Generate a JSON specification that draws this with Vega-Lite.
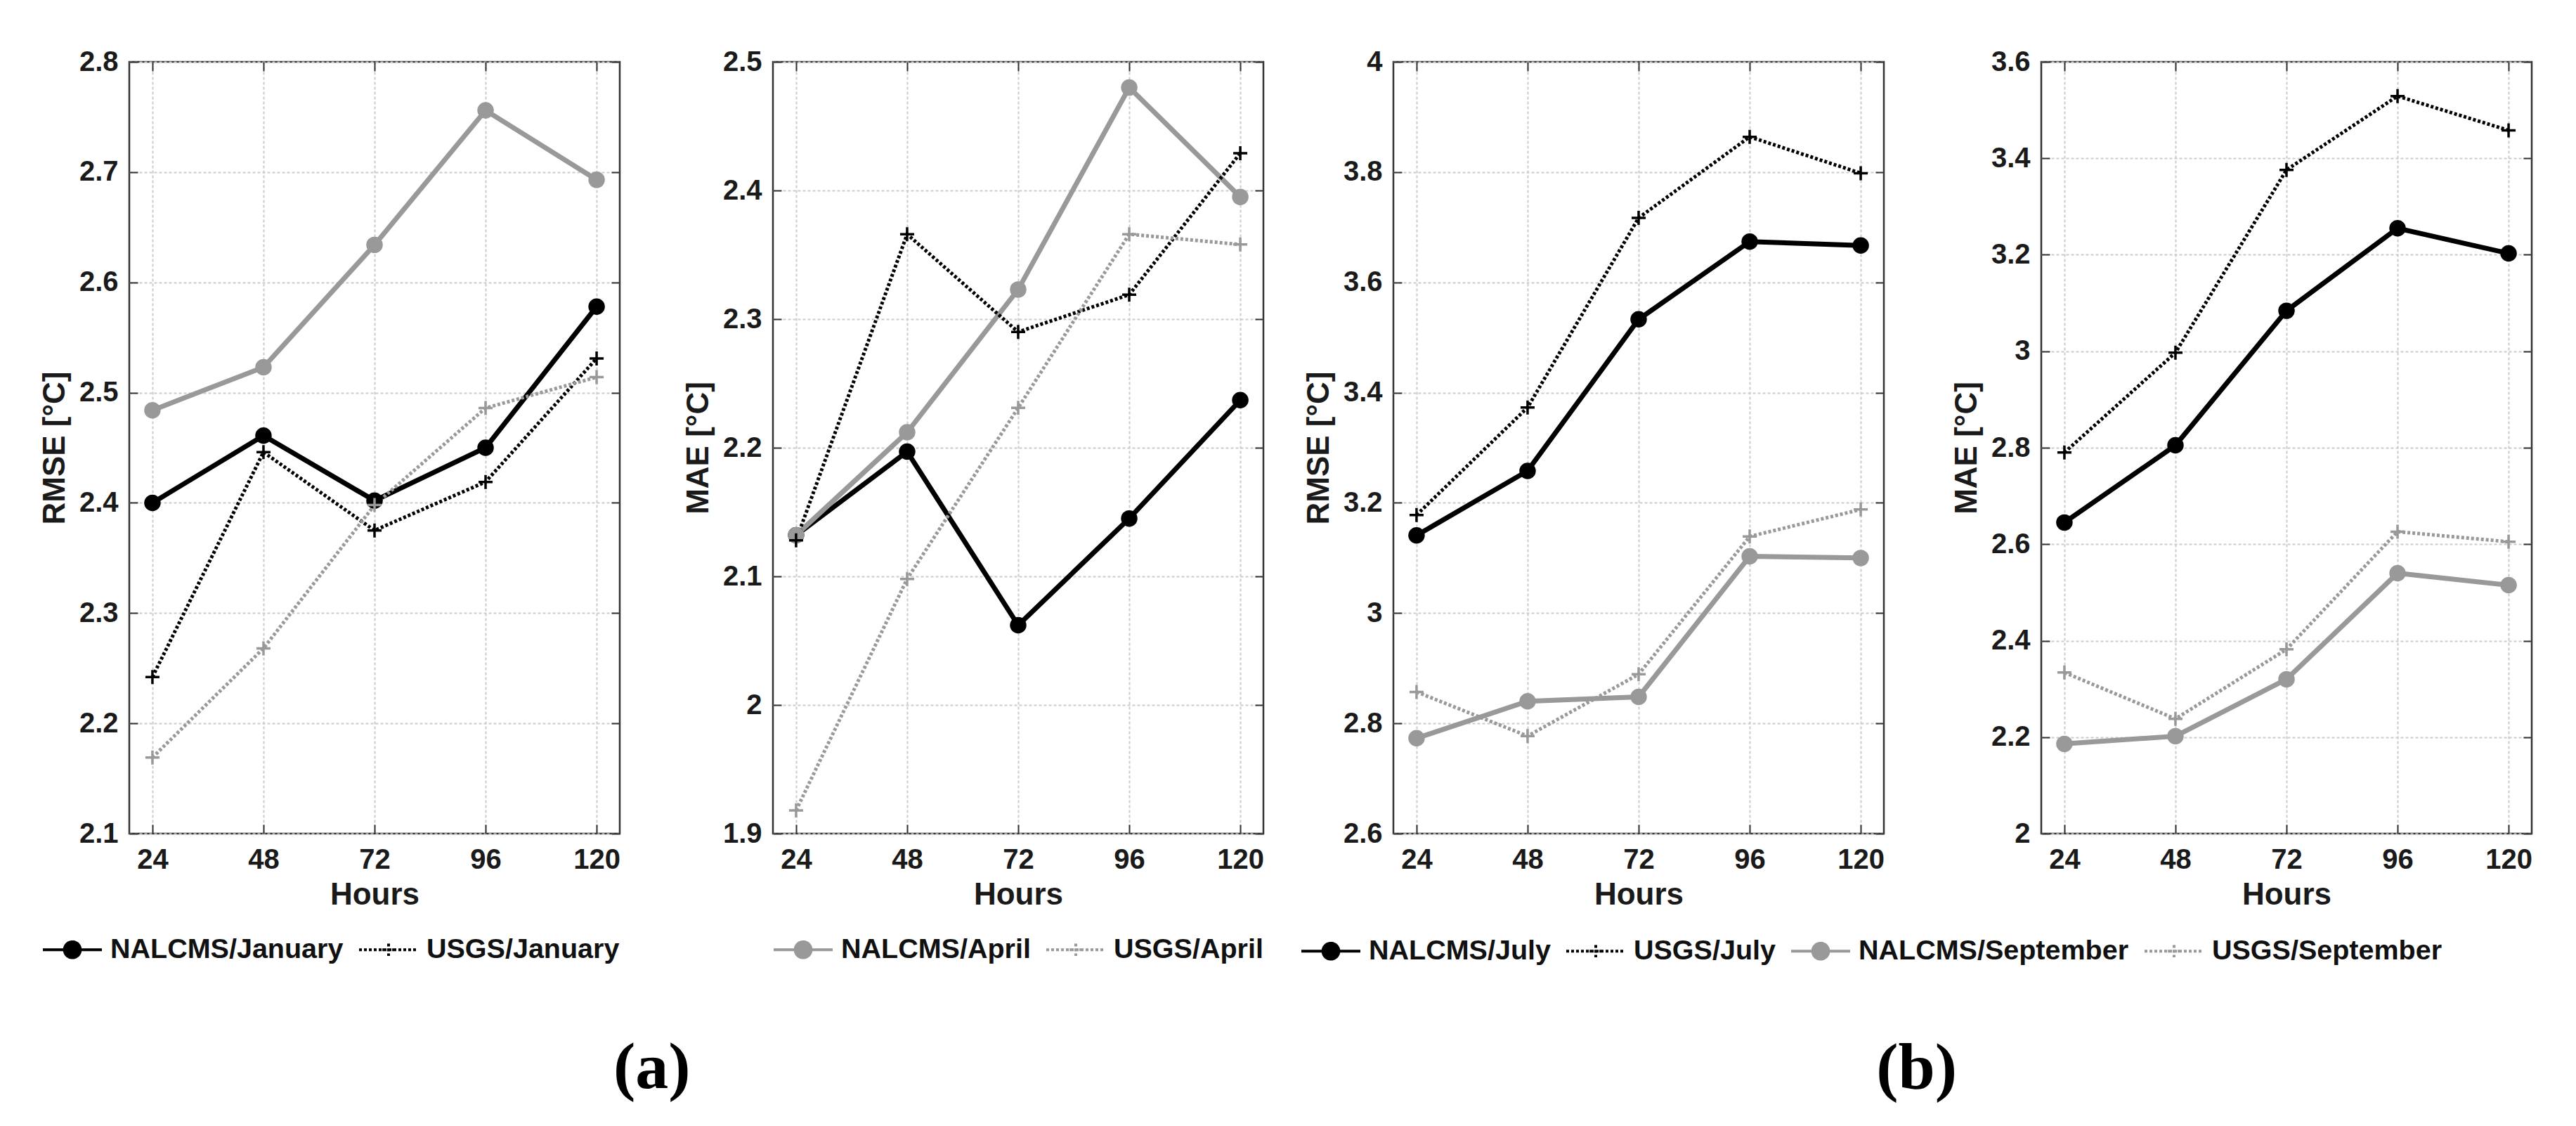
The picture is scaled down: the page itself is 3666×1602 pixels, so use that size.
{
  "$schema": "https://vega.github.io/schema/vega-lite/v6.json",
  "padding": {"left": 55, "top": 66, "right": 10, "bottom": 10},
  "background": "white",
  "data": {"values": [
    {"panel": "p1", "series": "NALCMS/January", "hours": 24, "value": 2.400},
    {"panel": "p1", "series": "NALCMS/January", "hours": 48, "value": 2.461},
    {"panel": "p1", "series": "NALCMS/January", "hours": 72, "value": 2.402},
    {"panel": "p1", "series": "NALCMS/January", "hours": 96, "value": 2.450},
    {"panel": "p1", "series": "NALCMS/January", "hours": 120, "value": 2.578},
    {"panel": "p1", "series": "USGS/January", "hours": 24, "value": 2.242},
    {"panel": "p1", "series": "USGS/January", "hours": 48, "value": 2.446},
    {"panel": "p1", "series": "USGS/January", "hours": 72, "value": 2.375},
    {"panel": "p1", "series": "USGS/January", "hours": 96, "value": 2.419},
    {"panel": "p1", "series": "USGS/January", "hours": 120, "value": 2.531},
    {"panel": "p1", "series": "NALCMS/April", "hours": 24, "value": 2.484},
    {"panel": "p1", "series": "NALCMS/April", "hours": 48, "value": 2.523},
    {"panel": "p1", "series": "NALCMS/April", "hours": 72, "value": 2.634},
    {"panel": "p1", "series": "NALCMS/April", "hours": 96, "value": 2.756},
    {"panel": "p1", "series": "NALCMS/April", "hours": 120, "value": 2.693},
    {"panel": "p1", "series": "USGS/April", "hours": 24, "value": 2.169},
    {"panel": "p1", "series": "USGS/April", "hours": 48, "value": 2.268},
    {"panel": "p1", "series": "USGS/April", "hours": 72, "value": 2.398},
    {"panel": "p1", "series": "USGS/April", "hours": 96, "value": 2.486},
    {"panel": "p1", "series": "USGS/April", "hours": 120, "value": 2.514},
    {"panel": "p2", "series": "NALCMS/January", "hours": 24, "value": 2.132},
    {"panel": "p2", "series": "NALCMS/January", "hours": 48, "value": 2.197},
    {"panel": "p2", "series": "NALCMS/January", "hours": 72, "value": 2.062},
    {"panel": "p2", "series": "NALCMS/January", "hours": 96, "value": 2.145},
    {"panel": "p2", "series": "NALCMS/January", "hours": 120, "value": 2.237},
    {"panel": "p2", "series": "USGS/January", "hours": 24, "value": 2.128},
    {"panel": "p2", "series": "USGS/January", "hours": 48, "value": 2.366},
    {"panel": "p2", "series": "USGS/January", "hours": 72, "value": 2.290},
    {"panel": "p2", "series": "USGS/January", "hours": 96, "value": 2.319},
    {"panel": "p2", "series": "USGS/January", "hours": 120, "value": 2.429},
    {"panel": "p2", "series": "NALCMS/April", "hours": 24, "value": 2.132},
    {"panel": "p2", "series": "NALCMS/April", "hours": 48, "value": 2.212},
    {"panel": "p2", "series": "NALCMS/April", "hours": 72, "value": 2.323},
    {"panel": "p2", "series": "NALCMS/April", "hours": 96, "value": 2.480},
    {"panel": "p2", "series": "NALCMS/April", "hours": 120, "value": 2.395},
    {"panel": "p2", "series": "USGS/April", "hours": 24, "value": 1.918},
    {"panel": "p2", "series": "USGS/April", "hours": 48, "value": 2.098},
    {"panel": "p2", "series": "USGS/April", "hours": 72, "value": 2.231},
    {"panel": "p2", "series": "USGS/April", "hours": 96, "value": 2.366},
    {"panel": "p2", "series": "USGS/April", "hours": 120, "value": 2.358},
    {"panel": "p3", "series": "NALCMS/July", "hours": 24, "value": 3.141},
    {"panel": "p3", "series": "NALCMS/July", "hours": 48, "value": 3.258},
    {"panel": "p3", "series": "NALCMS/July", "hours": 72, "value": 3.533},
    {"panel": "p3", "series": "NALCMS/July", "hours": 96, "value": 3.674},
    {"panel": "p3", "series": "NALCMS/July", "hours": 120, "value": 3.667},
    {"panel": "p3", "series": "USGS/July", "hours": 24, "value": 3.178},
    {"panel": "p3", "series": "USGS/July", "hours": 48, "value": 3.373},
    {"panel": "p3", "series": "USGS/July", "hours": 72, "value": 3.717},
    {"panel": "p3", "series": "USGS/July", "hours": 96, "value": 3.864},
    {"panel": "p3", "series": "USGS/July", "hours": 120, "value": 3.798},
    {"panel": "p3", "series": "NALCMS/September", "hours": 24, "value": 2.773},
    {"panel": "p3", "series": "NALCMS/September", "hours": 48, "value": 2.840},
    {"panel": "p3", "series": "NALCMS/September", "hours": 72, "value": 2.848},
    {"panel": "p3", "series": "NALCMS/September", "hours": 96, "value": 3.103},
    {"panel": "p3", "series": "NALCMS/September", "hours": 120, "value": 3.100},
    {"panel": "p3", "series": "USGS/September", "hours": 24, "value": 2.857},
    {"panel": "p3", "series": "USGS/September", "hours": 48, "value": 2.777},
    {"panel": "p3", "series": "USGS/September", "hours": 72, "value": 2.889},
    {"panel": "p3", "series": "USGS/September", "hours": 96, "value": 3.139},
    {"panel": "p3", "series": "USGS/September", "hours": 120, "value": 3.188},
    {"panel": "p4", "series": "NALCMS/July", "hours": 24, "value": 2.645},
    {"panel": "p4", "series": "NALCMS/July", "hours": 48, "value": 2.805},
    {"panel": "p4", "series": "NALCMS/July", "hours": 72, "value": 3.084},
    {"panel": "p4", "series": "NALCMS/July", "hours": 96, "value": 3.255},
    {"panel": "p4", "series": "NALCMS/July", "hours": 120, "value": 3.203},
    {"panel": "p4", "series": "USGS/July", "hours": 24, "value": 2.790},
    {"panel": "p4", "series": "USGS/July", "hours": 48, "value": 2.997},
    {"panel": "p4", "series": "USGS/July", "hours": 72, "value": 3.376},
    {"panel": "p4", "series": "USGS/July", "hours": 96, "value": 3.529},
    {"panel": "p4", "series": "USGS/July", "hours": 120, "value": 3.458},
    {"panel": "p4", "series": "NALCMS/September", "hours": 24, "value": 2.186},
    {"panel": "p4", "series": "NALCMS/September", "hours": 48, "value": 2.202},
    {"panel": "p4", "series": "NALCMS/September", "hours": 72, "value": 2.320},
    {"panel": "p4", "series": "NALCMS/September", "hours": 96, "value": 2.540},
    {"panel": "p4", "series": "NALCMS/September", "hours": 120, "value": 2.515},
    {"panel": "p4", "series": "USGS/September", "hours": 24, "value": 2.334},
    {"panel": "p4", "series": "USGS/September", "hours": 48, "value": 2.238},
    {"panel": "p4", "series": "USGS/September", "hours": 72, "value": 2.382},
    {"panel": "p4", "series": "USGS/September", "hours": 96, "value": 2.626},
    {"panel": "p4", "series": "USGS/September", "hours": 120, "value": 2.605}
  ]},
  "resolve": {"scale": {"color": "independent"}, "legend": {"color": "independent"}},
  "spacing": 49,
  "hconcat": [
    {
      "title": {"text": "(a)", "orient": "bottom", "anchor": "middle", "font": "Liberation Serif", "fontSize": 94, "fontWeight": "bold", "color": "#000000", "offset": 102},
      "spacing": 86,
      "resolve": {"scale": {"color": "independent"}, "legend": {"color": "independent"}},
      "hconcat": [
        {
          "width": 698, "height": 1098,
          "transform": [{"filter": "datum.panel === 'p1'"}],
          "encoding": {
            "x": {"field": "hours", "type": "quantitative", "scale": {"domain": [19, 125], "nice": false, "zero": false},
                  "axis": {"orient": "bottom", "values": [24, 48, 72, 96, 120], "title": "Hours", "grid": true, "tickSize": -13, "labelPadding": 30}},
            "y": {"field": "value", "type": "quantitative", "scale": {"domain": [2.1, 2.8], "nice": false, "zero": false},
                  "axis": {"orient": "left", "values": [2.1, 2.2, 2.3, 2.4, 2.5, 2.6, 2.7, 2.8], "format": "~g", "title": "RMSE [°C]", "grid": true, "tickSize": -12, "labelPadding": 28}},
            "color": {"field": "series", "type": "nominal",
                      "scale": {"domain": ["NALCMS/January", "USGS/January", "NALCMS/April", "USGS/April"], "range": ["#000000", "#000000", "#999999", "#999999"]},
                      "legend": {"title": null, "values": ["NALCMS/January", "USGS/January"],
                        "encode": {"symbols": {"update": {
                          "shape": {"signal": "indexof(datum.value,'NALCMS') === 0 ? 'M-1,0H1M0.27,0A0.27,0.27,0,1,1,-0.27,0A0.27,0.27,0,1,1,0.27,0Z' : 'M-1,0H1M0,-0.21V0.21M-0.21,0H0.21'"},
                          "strokeDash": {"signal": "indexof(datum.value,'NALCMS') === 0 ? [1,0] : [4,3]"}
                        }}}}}
          },
          "layer": [
            {"transform": [{"filter": "indexof(datum.series,'NALCMS') === 0"}], "mark": {"type": "line", "strokeWidth": 7}},
            {"transform": [{"filter": "indexof(datum.series,'USGS') === 0"}], "mark": {"type": "line", "strokeWidth": 5, "strokeDash": [4, 3]},
             "encoding": {
               "x": {"field": "hours", "type": "quantitative", "scale": {"domain": [19, 125], "nice": false, "zero": false}, "axis": {"orient": "top", "values": [24, 48, 72, 96, 120], "labels": false, "title": null, "grid": false, "tickSize": -13}},
               "y": {"field": "value", "type": "quantitative", "scale": {"domain": [2.1, 2.8], "nice": false, "zero": false}, "axis": {"orient": "right", "values": [2.1, 2.2, 2.3, 2.4, 2.5, 2.6, 2.7, 2.8], "labels": false, "title": null, "grid": false, "tickSize": -12}}
             }},
            {"transform": [{"filter": "indexof(datum.series,'NALCMS') === 0"}], "mark": {"type": "point", "filled": true, "shape": "circle", "size": 550, "opacity": 1},
             "encoding": {"x": {"field": "hours", "type": "quantitative", "axis": null}, "y": {"field": "value", "type": "quantitative", "axis": null}}},
            {"transform": [{"filter": "indexof(datum.series,'USGS') === 0"}], "mark": {"type": "point", "filled": false, "shape": "M-1,0H1M0,-1V1", "size": 400, "strokeWidth": 3.5, "opacity": 1},
             "encoding": {"x": {"field": "hours", "type": "quantitative", "axis": null}, "y": {"field": "value", "type": "quantitative", "axis": null}}}
          ],
          "resolve": {"axis": {"x": "independent", "y": "independent"}}
        },
        {
          "width": 698, "height": 1098,
          "transform": [{"filter": "datum.panel === 'p2'"}],
          "encoding": {
            "x": {"field": "hours", "type": "quantitative", "scale": {"domain": [19, 125], "nice": false, "zero": false},
                  "axis": {"orient": "bottom", "values": [24, 48, 72, 96, 120], "title": "Hours", "grid": true, "tickSize": -13, "labelPadding": 30}},
            "y": {"field": "value", "type": "quantitative", "scale": {"domain": [1.9, 2.5], "nice": false, "zero": false},
                  "axis": {"orient": "left", "values": [1.9, 2.0, 2.1, 2.2, 2.3, 2.4, 2.5], "format": "~g", "title": "MAE [°C]", "grid": true, "tickSize": -12, "labelPadding": 28}},
            "color": {"field": "series", "type": "nominal",
                      "scale": {"domain": ["NALCMS/January", "USGS/January", "NALCMS/April", "USGS/April"], "range": ["#000000", "#000000", "#999999", "#999999"]},
                      "legend": {"title": null, "values": ["NALCMS/April", "USGS/April"],
                        "encode": {"symbols": {"update": {
                          "shape": {"signal": "indexof(datum.value,'NALCMS') === 0 ? 'M-1,0H1M0.27,0A0.27,0.27,0,1,1,-0.27,0A0.27,0.27,0,1,1,0.27,0Z' : 'M-1,0H1M0,-0.21V0.21M-0.21,0H0.21'"},
                          "strokeDash": {"signal": "indexof(datum.value,'NALCMS') === 0 ? [1,0] : [4,3]"}
                        }}}}}
          },
          "layer": [
            {"transform": [{"filter": "indexof(datum.series,'NALCMS') === 0"}], "mark": {"type": "line", "strokeWidth": 7}},
            {"transform": [{"filter": "indexof(datum.series,'USGS') === 0"}], "mark": {"type": "line", "strokeWidth": 5, "strokeDash": [4, 3]},
             "encoding": {
               "x": {"field": "hours", "type": "quantitative", "scale": {"domain": [19, 125], "nice": false, "zero": false}, "axis": {"orient": "top", "values": [24, 48, 72, 96, 120], "labels": false, "title": null, "grid": false, "tickSize": -13}},
               "y": {"field": "value", "type": "quantitative", "scale": {"domain": [1.9, 2.5], "nice": false, "zero": false}, "axis": {"orient": "right", "values": [1.9, 2.0, 2.1, 2.2, 2.3, 2.4, 2.5], "labels": false, "title": null, "grid": false, "tickSize": -12}}
             }},
            {"transform": [{"filter": "indexof(datum.series,'NALCMS') === 0"}], "mark": {"type": "point", "filled": true, "shape": "circle", "size": 550, "opacity": 1},
             "encoding": {"x": {"field": "hours", "type": "quantitative", "axis": null}, "y": {"field": "value", "type": "quantitative", "axis": null}}},
            {"transform": [{"filter": "indexof(datum.series,'USGS') === 0"}], "mark": {"type": "point", "filled": false, "shape": "M-1,0H1M0,-1V1", "size": 400, "strokeWidth": 3.5, "opacity": 1},
             "encoding": {"x": {"field": "hours", "type": "quantitative", "axis": null}, "y": {"field": "value", "type": "quantitative", "axis": null}}}
          ],
          "resolve": {"axis": {"x": "independent", "y": "independent"}}
        }
      ]
    },
    {
      "title": {"text": "(b)", "orient": "bottom", "anchor": "middle", "font": "Liberation Serif", "fontSize": 94, "fontWeight": "bold", "color": "#000000", "offset": 102},
      "spacing": 92,
      "resolve": {"scale": {"color": "shared"}, "legend": {"color": "shared"}},
      "hconcat": [
        {
          "width": 698, "height": 1098,
          "transform": [{"filter": "datum.panel === 'p3'"}],
          "encoding": {
            "x": {"field": "hours", "type": "quantitative", "scale": {"domain": [19, 125], "nice": false, "zero": false},
                  "axis": {"orient": "bottom", "values": [24, 48, 72, 96, 120], "title": "Hours", "grid": true, "tickSize": -13, "labelPadding": 30}},
            "y": {"field": "value", "type": "quantitative", "scale": {"domain": [2.6, 4.0], "nice": false, "zero": false},
                  "axis": {"orient": "left", "values": [2.6, 2.8, 3.0, 3.2, 3.4, 3.6, 3.8, 4.0], "format": "~g", "title": "RMSE [°C]", "grid": true, "tickSize": -12, "labelPadding": 28}},
            "color": {"field": "series", "type": "nominal",
                      "scale": {"domain": ["NALCMS/July", "USGS/July", "NALCMS/September", "USGS/September"], "range": ["#000000", "#000000", "#999999", "#999999"]},
                      "legend": {"title": null,
                        "encode": {"symbols": {"update": {
                          "shape": {"signal": "indexof(datum.value,'NALCMS') === 0 ? 'M-1,0H1M0.27,0A0.27,0.27,0,1,1,-0.27,0A0.27,0.27,0,1,1,0.27,0Z' : 'M-1,0H1M0,-0.21V0.21M-0.21,0H0.21'"},
                          "strokeDash": {"signal": "indexof(datum.value,'NALCMS') === 0 ? [1,0] : [4,3]"}
                        }}}}}
          },
          "layer": [
            {"transform": [{"filter": "indexof(datum.series,'NALCMS') === 0"}], "mark": {"type": "line", "strokeWidth": 7}},
            {"transform": [{"filter": "indexof(datum.series,'USGS') === 0"}], "mark": {"type": "line", "strokeWidth": 5, "strokeDash": [4, 3]},
             "encoding": {
               "x": {"field": "hours", "type": "quantitative", "scale": {"domain": [19, 125], "nice": false, "zero": false}, "axis": {"orient": "top", "values": [24, 48, 72, 96, 120], "labels": false, "title": null, "grid": false, "tickSize": -13}},
               "y": {"field": "value", "type": "quantitative", "scale": {"domain": [2.6, 4.0], "nice": false, "zero": false}, "axis": {"orient": "right", "values": [2.6, 2.8, 3.0, 3.2, 3.4, 3.6, 3.8, 4.0], "labels": false, "title": null, "grid": false, "tickSize": -12}}
             }},
            {"transform": [{"filter": "indexof(datum.series,'NALCMS') === 0"}], "mark": {"type": "point", "filled": true, "shape": "circle", "size": 550, "opacity": 1},
             "encoding": {"x": {"field": "hours", "type": "quantitative", "axis": null}, "y": {"field": "value", "type": "quantitative", "axis": null}}},
            {"transform": [{"filter": "indexof(datum.series,'USGS') === 0"}], "mark": {"type": "point", "filled": false, "shape": "M-1,0H1M0,-1V1", "size": 400, "strokeWidth": 3.5, "opacity": 1},
             "encoding": {"x": {"field": "hours", "type": "quantitative", "axis": null}, "y": {"field": "value", "type": "quantitative", "axis": null}}}
          ],
          "resolve": {"axis": {"x": "independent", "y": "independent"}}
        },
        {
          "width": 698, "height": 1098,
          "transform": [{"filter": "datum.panel === 'p4'"}],
          "encoding": {
            "x": {"field": "hours", "type": "quantitative", "scale": {"domain": [19, 125], "nice": false, "zero": false},
                  "axis": {"orient": "bottom", "values": [24, 48, 72, 96, 120], "title": "Hours", "grid": true, "tickSize": -13, "labelPadding": 30}},
            "y": {"field": "value", "type": "quantitative", "scale": {"domain": [2.0, 3.6], "nice": false, "zero": false},
                  "axis": {"orient": "left", "values": [2.0, 2.2, 2.4, 2.6, 2.8, 3.0, 3.2, 3.4, 3.6], "format": "~g", "title": "MAE [°C]", "grid": true, "tickSize": -12, "labelPadding": 28}},
            "color": {"field": "series", "type": "nominal",
                      "scale": {"domain": ["NALCMS/July", "USGS/July", "NALCMS/September", "USGS/September"], "range": ["#000000", "#000000", "#999999", "#999999"]},
                      "legend": {"title": null,
                        "encode": {"symbols": {"update": {
                          "shape": {"signal": "indexof(datum.value,'NALCMS') === 0 ? 'M-1,0H1M0.27,0A0.27,0.27,0,1,1,-0.27,0A0.27,0.27,0,1,1,0.27,0Z' : 'M-1,0H1M0,-0.21V0.21M-0.21,0H0.21'"},
                          "strokeDash": {"signal": "indexof(datum.value,'NALCMS') === 0 ? [1,0] : [4,3]"}
                        }}}}}
          },
          "layer": [
            {"transform": [{"filter": "indexof(datum.series,'NALCMS') === 0"}], "mark": {"type": "line", "strokeWidth": 7}},
            {"transform": [{"filter": "indexof(datum.series,'USGS') === 0"}], "mark": {"type": "line", "strokeWidth": 5, "strokeDash": [4, 3]},
             "encoding": {
               "x": {"field": "hours", "type": "quantitative", "scale": {"domain": [19, 125], "nice": false, "zero": false}, "axis": {"orient": "top", "values": [24, 48, 72, 96, 120], "labels": false, "title": null, "grid": false, "tickSize": -13}},
               "y": {"field": "value", "type": "quantitative", "scale": {"domain": [2.0, 3.6], "nice": false, "zero": false}, "axis": {"orient": "right", "values": [2.0, 2.2, 2.4, 2.6, 2.8, 3.0, 3.2, 3.4, 3.6], "labels": false, "title": null, "grid": false, "tickSize": -12}}
             }},
            {"transform": [{"filter": "indexof(datum.series,'NALCMS') === 0"}], "mark": {"type": "point", "filled": true, "shape": "circle", "size": 550, "opacity": 1},
             "encoding": {"x": {"field": "hours", "type": "quantitative", "axis": null}, "y": {"field": "value", "type": "quantitative", "axis": null}}},
            {"transform": [{"filter": "indexof(datum.series,'USGS') === 0"}], "mark": {"type": "point", "filled": false, "shape": "M-1,0H1M0,-1V1", "size": 400, "strokeWidth": 3.5, "opacity": 1},
             "encoding": {"x": {"field": "hours", "type": "quantitative", "axis": null}, "y": {"field": "value", "type": "quantitative", "axis": null}}}
          ],
          "resolve": {"axis": {"x": "independent", "y": "independent"}}
        }
      ]
    }
  ],
  "config": {
    "font": "Liberation Sans",
    "view": {"stroke": "#333333", "strokeWidth": 2.5},
    "axis": {"labelFont": "Liberation Sans", "labelFontSize": 40, "labelFontWeight": "bold", "labelColor": "#1a1a1a",
             "titleFont": "Liberation Sans", "titleFontSize": 44, "titleFontWeight": "bold", "titleColor": "#1a1a1a",
             "domain": false, "tickColor": "#333333", "tickWidth": 2, "gridColor": "#cccccc", "gridWidth": 2, "gridDash": [4, 3],
             "labelFlush": false, "labelOverlap": false},
    "axisX": {"titlePadding": 8},
    "axisY": {"titlePadding": 12},
    "legend": {"orient": "bottom", "direction": "horizontal", "labelFont": "Liberation Sans", "labelFontSize": 39.5, "labelFontWeight": "bold",
               "labelColor": "#111111", "labelLimit": 0, "labelOffset": 10, "columnPadding": 14, "offset": 12, "padding": 0,
               "symbolSize": 7056, "symbolStrokeWidth": 4, "symbolOpacity": 1,
               "layout": {"bottom": {"anchor": "end", "bounds": "full"}}}
  }
}
